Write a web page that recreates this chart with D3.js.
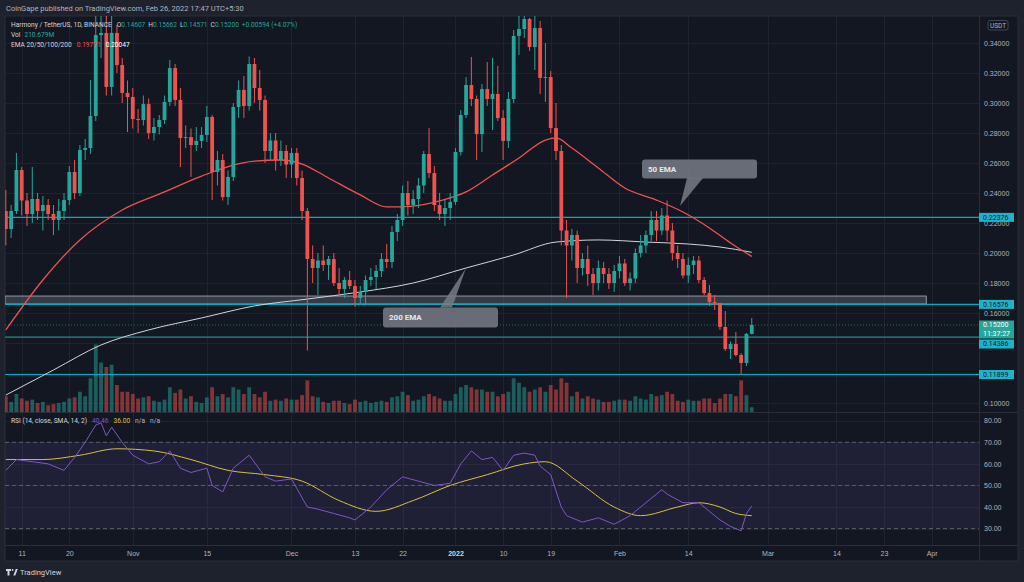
<!DOCTYPE html>
<html lang="en">
<head>
<meta charset="UTF-8">
<title>Harmony / TetherUS 1D</title>
<script src="https://d3js.org/d3.v7.min.js"></script>
<style>
  body { margin: 0; background: #1e222d; }
  svg { display: block; font-family: Roboto, "Liberation Sans", sans-serif; }
  text { fill: #b2b5be; }
</style>
</head>
<body>
<svg id="chart" width="1024" height="582"></svg>
<script>
// daily candles, ONE/USDT
const dates = [
  "2021-10-08","2021-10-09","2021-10-10","2021-10-11","2021-10-12","2021-10-13","2021-10-14","2021-10-15","2021-10-16","2021-10-17","2021-10-18","2021-10-19","2021-10-20","2021-10-21","2021-10-22","2021-10-23","2021-10-24","2021-10-25","2021-10-26","2021-10-27","2021-10-28","2021-10-29","2021-10-30","2021-10-31",
  "2021-11-01","2021-11-02","2021-11-03","2021-11-04","2021-11-05","2021-11-06","2021-11-07","2021-11-08","2021-11-09","2021-11-10","2021-11-11","2021-11-12","2021-11-13","2021-11-14","2021-11-15","2021-11-16","2021-11-17","2021-11-18","2021-11-19","2021-11-20","2021-11-21","2021-11-22","2021-11-23","2021-11-24","2021-11-25","2021-11-26","2021-11-27","2021-11-28","2021-11-29","2021-11-30",
  "2021-12-01","2021-12-02","2021-12-03","2021-12-04","2021-12-05","2021-12-06","2021-12-07","2021-12-08","2021-12-09","2021-12-10","2021-12-11","2021-12-12","2021-12-13","2021-12-14","2021-12-15","2021-12-16","2021-12-17","2021-12-18","2021-12-19","2021-12-20","2021-12-21","2021-12-22","2021-12-23","2021-12-24","2021-12-25","2021-12-26","2021-12-27","2021-12-28","2021-12-29","2021-12-30","2021-12-31",
  "2022-01-01","2022-01-02","2022-01-03","2022-01-04","2022-01-05","2022-01-06","2022-01-07","2022-01-08","2022-01-09","2022-01-10","2022-01-11","2022-01-12","2022-01-13","2022-01-14","2022-01-15","2022-01-16","2022-01-17","2022-01-18","2022-01-19","2022-01-20","2022-01-21","2022-01-22","2022-01-23","2022-01-24","2022-01-25","2022-01-26","2022-01-27","2022-01-28","2022-01-29","2022-01-30","2022-01-31",
  "2022-02-01","2022-02-02","2022-02-03","2022-02-04","2022-02-05","2022-02-06","2022-02-07","2022-02-08","2022-02-09","2022-02-10","2022-02-11","2022-02-12","2022-02-13","2022-02-14","2022-02-15","2022-02-16","2022-02-17","2022-02-18","2022-02-19","2022-02-20","2022-02-21","2022-02-22","2022-02-23","2022-02-24","2022-02-25","2022-02-26"
];
const open = [
  .228,.216,.228,.2553,.235,.226,.236,.228,.232,.226,.222,.228,.2353,.254,.240,.2687,.270,.2913,.3453,.3467,.3107,.3467,.3253,.3067,
  .304,.2893,.2887,.2993,.280,.284,.2887,.3007,.3233,.302,.2767,.2773,.272,.2747,.2787,.2907,.254,.262,.2373,.2507,.2973,.3087,.298,.326,.310,.302,.268,.275,.262,.268,
  .259,.2667,.250,.228,.196,.190,.195,.192,.196,.180,.176,.182,.178,.170,.174,.182,.184,.188,.196,.194,.214,.222,.240,.232,.236,.245,.266,.2533,.232,.226,.230,
  .234,.2673,.292,.312,.3027,.2793,.3093,.3027,.306,.290,.2747,.3027,.3447,.3493,.356,.3373,.350,.3167,.3173,.2833,.268,.215,.205,.212,.190,.196,.186,.180,.190,.186,.180,
  .188,.193,.180,.183,.200,.205,.212,.222,.215,.225,.215,.200,.196,.185,.192,.195,.182,.1733,.1673,.1667,.1507,.136,.1393,.132,.1267,.14607
];
const high = [
  .242,.232,.2667,.2573,.240,.2573,.240,.238,.236,.232,.236,.240,.258,.262,.272,.276,.3153,.360,.360,.358,.358,.352,.330,.315,
  .310,.296,.305,.303,.290,.292,.305,.3287,.326,.310,.285,.283,.284,.284,.298,.292,.268,.266,.255,.300,.315,.318,.331,.330,.322,.305,.280,.280,.275,.272,
  .270,.270,.255,.230,.205,.200,.205,.198,.200,.190,.184,.188,.182,.178,.185,.190,.192,.200,.206,.218,.226,.245,.248,.242,.250,.268,.2833,.258,.240,.236,.240,
  .270,.2953,.3173,.3307,.305,.3127,.3273,.330,.3247,.2953,.3073,.3487,.358,.358,.3567,.358,.3547,.340,.3213,.300,.272,.222,.216,.215,.200,.205,.190,.195,.194,.190,.192,
  .198,.196,.187,.203,.212,.215,.228,.228,.230,.235,.220,.205,.200,.197,.198,.198,.184,.1787,.172,.1667,.1613,.141,.1473,.1333,.1467,.15662
];
const low = [
  .205,.210,.226,.225,.218,.220,.222,.215,.222,.212,.215,.222,.232,.236,.238,.262,.266,.288,.330,.305,.305,.320,.300,.2807,
  .283,.280,.285,.276,.275,.279,.286,.298,.298,.2573,.270,.2507,.268,.270,.274,.2353,.245,.235,.232,.248,.290,.290,.295,.300,.295,.260,.262,.255,.258,.250,
  .250,.245,.222,.135,.180,.172,.188,.182,.178,.172,.170,.176,.164,.166,.166,.178,.176,.184,.190,.190,.208,.218,.225,.226,.230,.240,.250,.228,.222,.218,.222,
  .232,.265,.290,.298,.262,.2673,.298,.282,.288,.262,.270,.300,.332,.3433,.3347,.322,.306,.3007,.280,.262,.205,.170,.195,.180,.185,.178,.172,.175,.180,.176,.174,
  .183,.178,.175,.180,.197,.200,.208,.208,.212,.208,.195,.190,.183,.180,.186,.180,.172,.1647,.162,.1487,.1347,.1293,.131,.119,.1247,.14571
];
const close = [
  .216,.228,.2553,.235,.226,.236,.228,.232,.226,.222,.228,.2353,.254,.240,.2687,.270,.2913,.3453,.3467,.3107,.3467,.3253,.3067,.304,
  .2893,.2887,.2993,.280,.284,.2887,.3007,.3233,.302,.2767,.2773,.272,.2747,.2787,.2907,.254,.262,.2373,.2507,.2973,.3087,.298,.326,.310,.302,.268,.275,.262,.268,.259,
  .2667,.250,.228,.196,.190,.195,.192,.196,.180,.176,.182,.178,.170,.174,.182,.184,.188,.196,.194,.214,.222,.240,.232,.236,.245,.266,.2533,.232,.226,.230,.234,
  .2673,.292,.312,.3027,.2793,.3093,.3027,.306,.290,.2747,.3027,.3447,.3493,.356,.3373,.350,.3167,.3173,.2833,.268,.215,.205,.212,.190,.196,.186,.180,.190,.186,.180,.188,
  .193,.180,.183,.200,.205,.212,.222,.215,.225,.215,.200,.196,.185,.192,.195,.182,.1733,.1673,.1667,.1507,.136,.1393,.132,.1267,.14607,.152
];
// volume in millions
const volume = [
  700,450,800,600,500,550,400,450,300,350,400,450,600,650,900,700,1500,3000,2200,2000,2100,1200,900,900,
  800,600,650,700,500,450,550,1100,850,1000,600,700,450,400,650,1100,700,800,650,1100,1000,800,1100,800,650,900,500,550,500,600,
  550,550,750,1400,700,650,450,400,500,500,400,350,550,450,500,400,450,500,450,650,700,900,750,500,550,700,800,700,600,500,500,
  800,1100,1200,1100,1000,1000,900,900,700,800,900,1500,1300,1100,900,1000,1100,900,1200,1000,1500,1300,700,900,600,700,600,550,450,450,500,
  550,550,500,700,600,550,800,700,750,900,800,500,450,550,500,500,600,600,400,600,800,800,700,1400,750,210.679
];

// moving averages
const ema50Dates = ["2021-10-08","2021-10-15","2021-10-22","2021-10-30","2021-11-07","2021-11-14","2021-11-24","2021-11-29","2021-12-03","2021-12-08","2021-12-14","2021-12-19","2021-12-24","2021-12-29","2022-01-03","2022-01-08","2022-01-13","2022-01-18","2022-01-20","2022-01-23","2022-01-28","2022-02-02","2022-02-08","2022-02-13","2022-02-18","2022-02-22","2022-02-26"];
const ema50 = [.1487,.182,.2087,.2287,.2407,.2513,.2613,.262,.2593,.250,.2387,.2307,.2313,.2347,.2407,.252,.2633,.2753,.2767,.270,.2567,.2433,.2353,.2273,.2167,.2067,.19771];
const ema200Dates = ["2021-10-08","2021-10-17","2021-10-26","2021-11-04","2021-11-14","2021-11-24","2021-12-04","2021-12-14","2021-12-24","2022-01-03","2022-01-12","2022-01-20","2022-01-28","2022-02-06","2022-02-14","2022-02-20","2022-02-26"];
const ema200 = [.1053,.122,.1387,.1487,.1567,.1647,.1693,.174,.180,.190,.1987,.2073,.2087,.2073,.206,.204,.20047];

// RSI(14) and its SMA(14)
const rsiDates = ["2021-10-08","2021-10-10","2021-10-13","2021-10-16","2021-10-19","2021-10-21","2021-10-23","2021-10-25","2021-10-26","2021-10-27","2021-10-28","2021-10-30","2021-11-01","2021-11-04","2021-11-06","2021-11-08","2021-11-10","2021-11-12","2021-11-15","2021-11-16","2021-11-18","2021-11-20","2021-11-23","2021-11-26","2021-11-28","2021-12-01","2021-12-04","2021-12-06","2021-12-09","2021-12-12","2021-12-13","2021-12-16","2021-12-19","2021-12-22","2021-12-25","2021-12-28","2021-12-31","2022-01-02","2022-01-04","2022-01-06","2022-01-08","2022-01-10","2022-01-12","2022-01-14","2022-01-16","2022-01-17","2022-01-19","2022-01-21","2022-01-22","2022-01-25","2022-01-28","2022-01-31","2022-02-03","2022-02-06","2022-02-09","2022-02-10","2022-02-13","2022-02-16","2022-02-18","2022-02-20","2022-02-22","2022-02-24","2022-02-25","2022-02-26"];
const rsi = [57,62,61,60,57,63,70,78,79,73,77,70,64,60,61,66,58,56,58,50,47,58,64,54,52,53,40,39,37,35,34,40,48,54,52,50,51,60,66,62,63,57,64,65,64,59,55,40,36,33,35,32,36,42,48,46,42,42,38,34,31,29,37,40.46];
const maDates = ["2021-10-08","2021-10-15","2021-10-22","2021-10-29","2021-11-05","2021-11-12","2021-11-19","2021-11-26","2021-12-03","2021-12-10","2021-12-17","2021-12-24","2021-12-31","2022-01-07","2022-01-14","2022-01-18","2022-01-24","2022-01-31","2022-02-05","2022-02-12","2022-02-16","2022-02-20","2022-02-23","2022-02-26"];
const rsiMa = [62,62,64,67,66,62,57,55,52,43,38,43,50,55,60,61,52,40,36,40,42,40,37,36];

// axis ticks
const timeTicks = ["2021-10-11","2021-10-20","2021-11-01","2021-11-15","2021-12-01","2021-12-13","2021-12-22","2022-01-01","2022-01-10","2022-01-19","2022-02-01","2022-02-14","2022-03-01","2022-03-14","2022-03-23","2022-04-01"];
const timeLabels = ["11","20","Nov","15","Dec","13","22","2022","10","19","Feb","14","Mar","14","23","Apr"];
const priceTicks = [0.10,0.12,0.14,0.16,0.18,0.20,0.22,0.24,0.26,0.28,0.30,0.32,0.34];
const hiddenPriceTicks = [0.12, 0.14]; // covered by level tags on the price scale
const rsiTicks = [80,70,60,50,40,30];

// drawn levels and zone
const levels = [0.22376, 0.16576, 0.14386, 0.11899];
const zone = [0.1660, 0.1713];
const zoneEnd = "2022-03-31";

const parse = d3.utcParse("%Y-%m-%d");
const candles = dates.map((d, i) => ({
  t: parse(d), o: open[i], h: high[i], l: low[i], c: close[i], v: volume[i]
}));

const L = 5, R = 979, AR = 1018;
const pTop = 16, pBot = 412, rBot = 545, tBot = 561;
const UP = "#26a69a", DOWN = "#ef5350";

const svg = d3.select("#chart");

const x = d3.scaleUtc().domain([parse("2021-10-11"), parse("2022-04-01")]).range([21.7, 931.6]);
const y = d3.scaleLinear().domain([0.10, 0.34]).range([403, 43]);
const yr = d3.scaleLinear().domain([30, 70]).range([528.6, 442.3]);
const yv = d3.scaleLinear().domain([0, 3200]).range([pBot, 340]);

const defs = svg.append("defs");
defs.append("clipPath").attr("id", "clipP").append("rect")
  .attr("x", L).attr("y", pTop).attr("width", R - L).attr("height", pBot - pTop);
defs.append("clipPath").attr("id", "clipR").append("rect")
  .attr("x", L).attr("y", pBot).attr("width", R - L).attr("height", rBot - pBot);

// frame
svg.append("rect").attr("x", L).attr("y", pTop).attr("width", AR - L).attr("height", tBot - pTop)
  .attr("fill", "#131722").attr("stroke", "#2a2e39");

// grid
const grid = svg.append("g").attr("stroke", "#1f2330").attr("stroke-width", 1);
grid.selectAll(".vg").data(timeTicks).join("line")
  .attr("x1", d => Math.round(x(parse(d))) + 0.5).attr("x2", d => Math.round(x(parse(d))) + 0.5)
  .attr("y1", pTop).attr("y2", rBot);
grid.selectAll(".hg").data(priceTicks).join("line")
  .attr("x1", L).attr("x2", R).attr("y1", d => Math.round(y(d)) + 0.5).attr("y2", d => Math.round(y(d)) + 0.5);
grid.selectAll(".rg").data(rsiTicks).join("line")
  .attr("x1", L).attr("x2", R).attr("y1", d => Math.round(yr(d)) + 0.5).attr("y2", d => Math.round(yr(d)) + 0.5);

// pane separators
const sep = svg.append("g").attr("stroke", "#2a2e39");
sep.append("line").attr("x1", L).attr("x2", AR).attr("y1", pBot + 0.5).attr("y2", pBot + 0.5);
sep.append("line").attr("x1", L).attr("x2", AR).attr("y1", rBot + 0.5).attr("y2", rBot + 0.5);
sep.append("line").attr("x1", R + 0.5).attr("x2", R + 0.5).attr("y1", pTop).attr("y2", tBot);

// price pane
const pp = svg.append("g").attr("clip-path", "url(#clipP)");
const bw = 3.8;

pp.selectAll(".vol").data(candles).join("rect")
  .attr("x", d => x(d.t) - bw / 2).attr("width", bw)
  .attr("y", d => yv(d.v)).attr("height", d => pBot - yv(d.v))
  .attr("fill", d => d.c >= d.o ? UP : DOWN).attr("opacity", 0.5);

// zone rectangle
pp.append("rect")
  .attr("x", L).attr("width", x(parse(zoneEnd)) - L)
  .attr("y", y(zone[1])).attr("height", y(zone[0]) - y(zone[1]))
  .attr("fill", "rgba(120,123,134,0.35)").attr("stroke", "#9598a1").attr("stroke-width", 1);

// horizontal levels
pp.selectAll(".lvl").data(levels).join("line")
  .attr("x1", L).attr("x2", R)
  .attr("y1", d => y(d)).attr("y2", d => y(d))
  .attr("stroke", (d, i) => i === 2 ? "#1f8f89" : "#00acc1").attr("stroke-width", 1.2);

// last price line
pp.append("line").attr("x1", L).attr("x2", R)
  .attr("y1", y(close[close.length - 1])).attr("y2", y(close[close.length - 1]))
  .attr("stroke", UP).attr("stroke-opacity", 0.6).attr("stroke-dasharray", "1,2");

// EMAs
const emaLine = d3.line().x(d => x(d[0])).y(d => y(d[1])).curve(d3.curveMonotoneX);
pp.append("path").datum(ema200Dates.map((d, i) => [parse(d), ema200[i]]))
  .attr("d", emaLine).attr("fill", "none").attr("stroke", "#d1d4dc").attr("stroke-width", 1);
pp.append("path").datum(ema50Dates.map((d, i) => [parse(d), ema50[i]]))
  .attr("d", emaLine).attr("fill", "none").attr("stroke", "#f0524f").attr("stroke-width", 1.3);

// candles
const cg = pp.selectAll(".candle").data(candles).join("g")
  .attr("fill", d => d.c >= d.o ? UP : DOWN).attr("stroke", d => d.c >= d.o ? UP : DOWN);
cg.append("line")
  .attr("x1", d => x(d.t)).attr("x2", d => x(d.t))
  .attr("y1", d => y(d.h)).attr("y2", d => y(d.l)).attr("stroke-width", 1);
cg.append("rect")
  .attr("x", d => x(d.t) - bw / 2).attr("width", bw)
  .attr("y", d => y(Math.max(d.o, d.c)))
  .attr("height", d => Math.max(1, Math.abs(y(d.o) - y(d.c))))
  .attr("stroke", "none");

// callouts
const callout = svg.append("g");
callout.append("path").attr("d", "M687,178 L703,178 L680,206 Z").attr("fill", "rgba(120,123,134,0.85)");
callout.append("rect").attr("x", 642).attr("y", 159.5).attr("width", 115).attr("height", 19).attr("rx", 3)
  .attr("fill", "rgba(120,123,134,0.85)");
callout.append("text").attr("x", 648).attr("y", 171.5).attr("font-size", 8).attr("font-weight", "bold")
  .style("fill", "#e8e9ed").text("50 EMA");
callout.append("path").attr("d", "M440,307.5 L452,307.5 L466,268 Z").attr("fill", "rgba(120,123,134,0.85)");
callout.append("rect").attr("x", 383).attr("y", 307.5).attr("width", 115).attr("height", 20).attr("rx", 3)
  .attr("fill", "rgba(120,123,134,0.85)");
callout.append("text").attr("x", 389).attr("y", 320).attr("font-size", 8).attr("font-weight", "bold")
  .style("fill", "#e8e9ed").text("200 EMA");

// RSI pane
const rp = svg.append("g").attr("clip-path", "url(#clipR)");
rp.append("rect").attr("x", L).attr("width", R - L).attr("y", yr(70)).attr("height", yr(30) - yr(70))
  .attr("fill", "rgba(126,87,194,0.12)");
rp.selectAll(".rb").data([70, 50, 30]).join("line")
  .attr("x1", L).attr("x2", R).attr("y1", d => yr(d)).attr("y2", d => yr(d))
  .attr("stroke", "#5d606b").attr("stroke-dasharray", "4,3");
rp.append("path").datum(maDates.map((d, i) => [parse(d), rsiMa[i]]))
  .attr("d", d3.line().x(d => x(d[0])).y(d => yr(d[1])).curve(d3.curveMonotoneX))
  .attr("fill", "none").attr("stroke", "#d9c043").attr("stroke-width", 1);
rp.append("path").datum(rsiDates.map((d, i) => [parse(d), rsi[i]]))
  .attr("d", d3.line().x(d => x(d[0])).y(d => yr(d[1])))
  .attr("fill", "none").attr("stroke", "#7e57c2").attr("stroke-width", 1);

// time axis
const tAxis = svg.append("g").attr("transform", `translate(0,${rBot + 9})`)
  .call(d3.axisBottom(x).tickValues(timeTicks.map(parse)).tickFormat((d, i) => timeLabels[i]).tickSize(0).tickPadding(0));
tAxis.select(".domain").remove();
tAxis.selectAll("text").attr("font-size", 7).attr("dy", "0.35em").style("fill", "#b2b5be")
  .attr("font-weight", (d, i) => timeLabels[i] === "2022" ? "bold" : null)
  .filter((d, i) => timeLabels[i] === "2022").style("fill", "#d1d4dc");

// price axis
const pAxis = svg.append("g").attr("transform", `translate(${R + 5},0)`)
  .call(d3.axisRight(y).tickValues(priceTicks.filter(v => !hiddenPriceTicks.includes(v)))
    .tickFormat(d3.format(".5f")).tickSize(0).tickPadding(0));
pAxis.select(".domain").remove();
pAxis.selectAll("text").attr("font-size", 7).style("fill", "#b2b5be");

const rAxis = svg.append("g").attr("transform", `translate(${R + 5},0)`)
  .call(d3.axisRight(yr).tickValues(rsiTicks).tickFormat(d3.format(".2f")).tickSize(0).tickPadding(0));
rAxis.select(".domain").remove();
rAxis.selectAll("text").attr("font-size", 7).style("fill", "#b2b5be");

// USDT badge
svg.append("rect").attr("x", 988).attr("y", 20.5).attr("width", 20).attr("height", 9.5).attr("rx", 2)
  .attr("fill", "#131722").attr("stroke", "#434651");
svg.append("text").attr("x", 998).attr("y", 25.5).attr("dy", "0.35em").attr("text-anchor", "middle")
  .attr("font-size", 6.5).text("USDT");

// price labels
function tag(v, cy, fill, color, txt2) {
  const h = txt2 ? 18 : 9;
  svg.append("rect").attr("x", R).attr("y", cy - 4.5).attr("width", 35).attr("height", h)
    .attr("fill", fill);
  svg.append("text").attr("x", R + 4).attr("y", cy).attr("dy", "0.35em").attr("font-size", 7)
    .style("fill", color).text(d3.format(".5f")(v));
  if (txt2) svg.append("text").attr("x", R + 4).attr("y", cy + 9).attr("dy", "0.35em").attr("font-size", 7)
    .style("fill", color).text(txt2);
}
tag(levels[0], y(levels[0]), "#1eb3c9", "#131722");
tag(levels[1], y(levels[1]), "#1eb3c9", "#131722");
tag(close[close.length - 1], y(close[close.length - 1]), UP, "#ffffff", "11:37:27");
tag(levels[2], 344, "#1eb3c9", "#131722");
tag(levels[3], y(levels[3]), "#1eb3c9", "#131722");

// header
svg.append("text").attr("x", 6).attr("y", 11).attr("font-size", 7.5).style("fill", "#b2b5be")
  .text("CoinGape published on TradingView.com, Feb 26, 2022 17:47 UTC+5:30");

// legend
const lg = svg.append("g").attr("font-size", 6.6);
const l1 = lg.append("text").attr("x", 11).attr("y", 27);
l1.append("tspan").style("fill", "#d1d4dc").text("Harmony / TetherUS, 1D, BINANCE");
[["O", open], ["H", high], ["L", low], ["C", close]].forEach(([k, arr], i) => {
  l1.append("tspan").attr("dx", i === 0 ? 5 : 3).style("fill", "#d1d4dc").text(k);
  l1.append("tspan").style("fill", UP).text(d3.format(".5f")(arr[arr.length - 1]));
});
l1.append("tspan").attr("dx", 3).style("fill", UP).text("+0.00594 (+4.07%)");
const l2 = lg.append("text").attr("x", 11).attr("y", 37);
l2.append("tspan").style("fill", "#d1d4dc").text("Vol");
l2.append("tspan").attr("dx", 4).style("fill", UP).text("210.679M");
const l3 = lg.append("text").attr("x", 11).attr("y", 47);
l3.append("tspan").style("fill", "#d1d4dc").text("EMA 20/50/100/200");
l3.append("tspan").attr("dx", 5).style("fill", "#f0524f").text(d3.format(".5f")(ema50[ema50.length - 1]));
l3.append("tspan").attr("dx", 5).style("fill", "#ffffff").text(d3.format(".5f")(ema200[ema200.length - 1]));
const l4 = lg.append("text").attr("x", 11).attr("y", 423);
l4.append("tspan").style("fill", "#d1d4dc").text("RSI (14, close, SMA, 14, 2)");
l4.append("tspan").attr("dx", 5).style("fill", "#7e57c2").text(d3.format(".2f")(rsi[rsi.length - 1]));
l4.append("tspan").attr("dx", 5).style("fill", "#d9c043").text(d3.format(".2f")(rsiMa[rsiMa.length - 1]));
l4.append("tspan").attr("dx", 5).style("fill", "#b2b5be").text("n/a");
l4.append("tspan").attr("dx", 5).style("fill", "#b2b5be").text("n/a");

// TradingView footer
const ft = svg.append("g").attr("fill", "#d1d4dc");
ft.append("path").attr("d", "M6,569 h5 v2 h-1.5 v4.5 h-2 v-4.5 h-1.5 Z");
ft.append("circle").attr("cx", 12.6).attr("cy", 570).attr("r", 0.9);
ft.append("path").attr("d", "M13.3,575.5 L15.8,569 H17.8 L15.3,575.5 Z");
svg.append("text").attr("x", 20).attr("y", 572).attr("dy", "0.35em").attr("font-size", 7.5)
  .style("fill", "#d1d4dc").text("TradingView");
</script>
</body>
</html>
